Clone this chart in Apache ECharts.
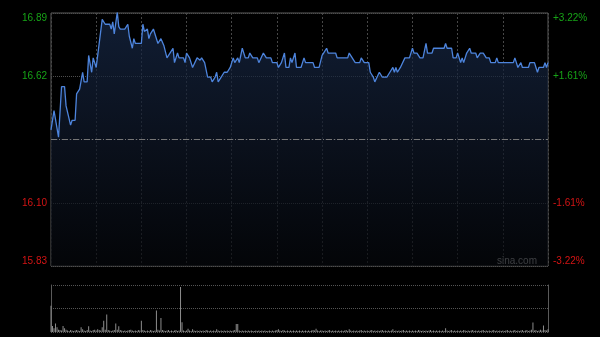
<!DOCTYPE html>
<html><head><meta charset="utf-8">
<script src="https://cdn.jsdelivr.net/npm/echarts@6/dist/echarts.min.js"></script>
<style>html,body{margin:0;padding:0;background:#000;}#c{width:600px;height:337px;}</style>
</head><body><div id="c"></div><script>
const prevClose = 16.36;
const pctTicks = [-3.22, -1.61, 0, 1.61, 3.22];
const leftLabels = ['15.83', '16.10', '', '16.62', '16.89'];
const rightLabels = ['-3.22%', '-1.61%', '', '+1.61%', '+3.22%'];

// [minute index, price]
const pricePoints = [
[0,16.40],[2,16.48],[3,16.48],[5,16.37],[7,16.58],[9,16.58],[10,16.50],[13,16.42],[14,16.44],[16,16.44],
[17,16.55],[19,16.57],[21,16.64],[22,16.60],[24,16.60],[25,16.71],[27,16.64],[28,16.70],[30,16.66],[32,16.76],
[34,16.86],[36,16.84],[39,16.84],[40,16.82],[41,16.85],[42,16.80],[44,16.89],[45,16.83],[46,16.82],[49,16.82],
[51,16.84],[52,16.79],[54,16.74],[55,16.78],[56,16.76],[60,16.76],[61,16.84],[62,16.81],[64,16.82],[65,16.78],
[66,16.80],[68,16.82],[69,16.82],[71,16.76],[72,16.76],[73,16.78],[75,16.75],[77,16.70],[79,16.72],[81,16.74],
[82,16.68],[84,16.72],[85,16.70],[88,16.70],[89,16.68],[90,16.72],[92,16.70],[94,16.66],[95,16.66],[97,16.70],
[99,16.69],[100,16.70],[102,16.68],[104,16.62],[106,16.62],[107,16.60],[109,16.62],[110,16.64],[111,16.60],[113,16.62],
[115,16.64],[117,16.64],[119,16.66],[121,16.70],[122,16.68],[124,16.70],[125,16.68],[127,16.74],[129,16.70],[131,16.70],
[132,16.72],[134,16.70],[137,16.70],[138,16.68],[141,16.72],[142,16.72],[143,16.70],[146,16.70],[147,16.68],[150,16.68],
[151,16.66],[153,16.68],[155,16.72],[156,16.66],[158,16.66],[159,16.70],[160,16.68],[162,16.72],[163,16.66],[166,16.66],
[168,16.70],[169,16.68],[174,16.68],[175,16.66],[178,16.66],[180,16.71],[181,16.72],[183,16.74],[184,16.72],[189,16.72],
[190,16.70],[197,16.70],[198,16.72],[199,16.72],[202,16.68],[205,16.68],[206,16.70],[208,16.68],[211,16.68],[212,16.64],
[214,16.62],[215,16.60],[216,16.60],[218,16.64],[220,16.62],[223,16.62],[225,16.64],[227,16.66],[228,16.64],[229,16.66],
[230,16.64],[232,16.66],[235,16.70],[238,16.70],[240,16.74],[241,16.72],[243,16.72],[245,16.70],[247,16.70],[249,16.76],
[250,16.72],[253,16.72],[254,16.74],[261,16.74],[262,16.76],[263,16.74],[266,16.74],[267,16.70],[269,16.70],[270,16.72],
[272,16.68],[273,16.70],[274,16.68],[276,16.72],[278,16.74],[279,16.72],[282,16.72],[283,16.70],[285,16.72],[287,16.72],
[289,16.70],[291,16.70],[292,16.68],[295,16.68],[296,16.70],[297,16.68],[307,16.68],[308,16.70],[309,16.68],[310,16.66],
[312,16.68],[313,16.66],[317,16.66],[318,16.68],[321,16.68],[322,16.66],[323,16.64],[324,16.66],[327,16.66],[328,16.68],
[329,16.66],[330,16.68]
];

// volume per minute (relative units)
const volume = [
56,13,8,18,10,5,4,3,13,8, 5,3,2,4,3,2,3,4,3,2, 10,6,3,2,4,12,3,2,4,5,
3,6,4,3,10,24,5,37,4,3, 2,3,4,18,5,12,4,3,2,3, 2,3,4,5,3,2,3,2,4,3,
24,4,3,2,3,2,4,3,2,3, 46,5,3,30,4,3,2,3,4,2, 3,2,3,4,2,3,96,21,3,2,
3,7,3,2,6,3,2,3,2,3, 2,3,2,4,3,2,3,2,3,2, 6,3,2,3,2,3,2,3,2,3,
2,3,4,17,17,3,2,3,2,3, 2,3,2,3,2,2,3,2,3,2, 3,2,3,2,2,3,2,3,2,3,
4,6,3,2,4,3,2,3,2,3, 2,3,2,3,2,3,2,3,2,3, 2,3,2,3,4,3,7,3,2,3,
3,2,3,2,3,4,2,3,2,3, 2,3,2,3,2,3,4,2,6,3, 2,3,2,3,2,3,4,2,3,2,
3,2,3,4,2,3,2,3,2,3, 4,2,3,2,3,2,3,6,2,3, 2,3,2,3,4,2,3,2,3,2,
3,2,3,2,4,3,2,3,2,3, 2,3,4,2,3,2,3,2,3,2, 3,2,8,3,2,3,4,2,3,2,
3,2,3,2,4,3,2,3,2,3, 4,2,3,2,3,2,3,4,2,3, 2,3,2,3,4,2,3,2,3,2,
3,2,3,4,2,3,2,3,4,2, 3,2,3,4,2,3,4,2,3,5, 20,3,4,2,3,5,3,14,4,3,
6
];
const volPoints = volume.map((v, i) => [i, v]);

const FONT = 'Arial, "Liberation Sans", sans-serif';
function tickIndex(v) { return pctTicks.findIndex(t => Math.abs(t - v) < 1e-6); }
function tickColor(v) { return v > 0 ? '#17a317' : (v < 0 ? '#d41414' : '#888'); }

const chart = echarts.init(document.getElementById('c'));
chart.setOption({
  backgroundColor: '#000',
  animation: false,
  grid: [
    { left: 51, right: 52, top: 13, bottom: 71, show: true, borderColor: '#5a5a5a', borderWidth: 1, backgroundColor: 'transparent' },
    { left: 51, right: 52, top: 285, height: 47 }
  ],
  xAxis: [
    { type: 'value', gridIndex: 0, min: 0, max: 330, interval: 30,
      axisLine: { show: false }, axisTick: { show: false }, axisLabel: { show: false },
      splitLine: { show: true, lineStyle: { color: '#474747', type: [2, 2], width: 1 } } },
    { type: 'value', gridIndex: 1, min: 0, max: 330, interval: 30,
      axisLine: { show: false }, axisTick: { show: false }, axisLabel: { show: false }, splitLine: { show: false } }
  ],
  yAxis: [
    { type: 'value', gridIndex: 0, position: 'left', min: -3.22, max: 3.22, interval: 1.61,
      axisLine: { show: false }, axisTick: { show: false },
      axisLabel: { show: true, fontSize: 10, fontFamily: FONT, margin: 4,
        formatter: v => { const i = tickIndex(v); return i >= 0 ? leftLabels[i] : ''; },
        color: v => tickColor(v),
        verticalAlignMinLabel: 'bottom', verticalAlignMaxLabel: 'top' },
      splitLine: { show: true, lineStyle: { color: '#4e4e4e', type: 'dotted', width: 1 } } },
    { type: 'value', gridIndex: 0, position: 'right', min: -3.22, max: 3.22, interval: 1.61,
      axisLine: { show: false }, axisTick: { show: false },
      axisLabel: { show: true, fontSize: 10, fontFamily: FONT, margin: 5,
        formatter: v => { const i = tickIndex(v); return i >= 0 ? rightLabels[i] : ''; },
        color: v => tickColor(v),
        verticalAlignMinLabel: 'bottom', verticalAlignMaxLabel: 'top' },
      splitLine: { show: false } },
    { type: 'value', gridIndex: 0, show: false,
      min: prevClose * (1 - 0.0322), max: prevClose * (1 + 0.0322), splitLine: { show: false } },
    { type: 'value', gridIndex: 1, position: 'left', min: 0, max: 100, interval: 50,
      axisLine: { show: true, lineStyle: { color: '#5a5a5a' } }, axisTick: { show: false }, axisLabel: { show: false },
      splitLine: { show: true, lineStyle: { color: '#555', type: 'dotted', width: 1 } } },
    { type: 'value', gridIndex: 1, position: 'right', min: 0, max: 100,
      axisLine: { show: true, lineStyle: { color: '#5a5a5a' } }, axisTick: { show: false }, axisLabel: { show: false },
      splitLine: { show: false } }
  ],
  series: [
    { type: 'line', xAxisIndex: 0, yAxisIndex: 2, data: pricePoints, showSymbol: false, symbol: 'none',
      lineStyle: { color: '#4d84dc', width: 1.3 },
      areaStyle: { origin: 'start', color: new echarts.graphic.LinearGradient(0, 0, 0, 1, [
        { offset: 0, color: '#182a4a' }, { offset: 0.5, color: '#0f1829' }, { offset: 1, color: '#05070b' }]) },
      markLine: { silent: true, symbol: 'none', label: { show: false },
        lineStyle: { color: '#767676', type: [6, 2, 1, 2], width: 1 },
        data: [{ yAxis: prevClose }] } },
    { type: 'bar', xAxisIndex: 1, yAxisIndex: 3, data: volPoints, barWidth: 1,
      itemStyle: { color: '#8c8c8c' } }
  ],
  graphic: [
    { type: 'text', right: 63, top: 256, style: { text: 'sina.com', fill: '#bcbcbc', font: '10px ' + FONT } }
  ]
});
</script></body></html>
